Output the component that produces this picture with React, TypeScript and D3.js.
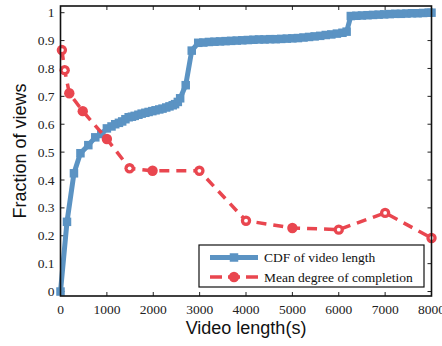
import React from "react";
import * as d3 from "d3";

// CDF of video length (seconds -> cumulative fraction)
const cdfLength = [0, 140, 290, 430, 600, 750, 880, 1000, 1100, 1180, 1260, 1330, 1400, 1470, 1540, 1600, 1680, 1750, 1830, 1900, 1980, 2050, 2130, 2200, 2280, 2350, 2420, 2470, 2530, 2580, 2700, 2830, 2970, 3080, 3200, 3320, 3440, 3560, 3680, 3800, 3920, 4040, 4160, 4280, 4400, 4520, 4640, 4760, 4880, 5000, 5120, 5240, 5360, 5480, 5600, 5720, 5840, 5960, 6080, 6170, 6260, 6380, 6500, 6620, 6740, 6860, 6980, 7100, 7220, 7340, 7460, 7580, 7700, 7820, 7940, 8000];
const cdfFraction = [0, 0.25, 0.424, 0.496, 0.525, 0.553, 0.565, 0.585, 0.592, 0.6, 0.605, 0.61, 0.618, 0.625, 0.627, 0.63, 0.634, 0.638, 0.641, 0.644, 0.647, 0.65, 0.653, 0.656, 0.66, 0.664, 0.668, 0.672, 0.68, 0.693, 0.74, 0.864, 0.892, 0.893, 0.895, 0.896, 0.897, 0.898, 0.899, 0.9, 0.901, 0.902, 0.903, 0.904, 0.904, 0.905, 0.905, 0.906, 0.907, 0.908, 0.909, 0.911, 0.913, 0.915, 0.917, 0.92, 0.922, 0.925, 0.928, 0.932, 0.988, 0.989, 0.99, 0.991, 0.992, 0.993, 0.994, 0.995, 0.996, 0.996, 0.997, 0.998, 0.998, 0.999, 1.0, 1.0];

// Mean degree of completion per video length
const completionLength = [30, 90, 190, 480, 1000, 1490, 1985, 2995, 4000, 5000, 6000, 7000, 8000];
const completionMean = [0.866, 0.794, 0.711, 0.647, 0.547, 0.442, 0.433, 0.433, 0.254, 0.228, 0.222, 0.282, 0.192];

const xTicks = [0, 1000, 2000, 3000, 4000, 5000, 6000, 7000, 8000];
const yTicks = [0, 0.1, 0.2, 0.3, 0.4, 0.5, 0.6, 0.7, 0.8, 0.9, 1];

const legendLabels = ["CDF of video length", "Mean degree of completion"];

const BLUE = "#5b93c3";
const RED = "#e9464f";
const SERIF = "'Liberation Serif', 'Times New Roman', serif";
const SANS = "'Liberation Sans', Arial, sans-serif";

// markers drawn as rings (white centre)
const ringMarkers = new Set([0, 1, 5, 7, 8, 10, 11, 12]);

export default function App() {
  const W = 442;
  const H = 346;
  const left = 60.5;
  const right = 431.5;
  const top = 6;
  const bottom = 296;

  const x = d3.scaleLinear().domain([0, 8000]).range([left, right]);
  const y = d3.scaleLinear().domain([-0.016, 1.024]).range([bottom, top]);

  const cdfPts: [number, number][] = cdfLength.map((v, i) => [v, cdfFraction[i]]);
  const compPts: [number, number][] = completionLength.map((v, i) => [v, completionMean[i]]);

  const line = d3
    .line<[number, number]>()
    .x((d) => x(d[0]))
    .y((d) => y(d[1]));

  const sq = 8.5;

  const legX = 199;
  const legY = 245;
  const legW = 225;
  const legH = 42;

  return (
    <svg
      width={W}
      height={H}
      style={{ position: "absolute", left: 0, top: 0, background: "#fff" }}
    >
      <rect x={0} y={0} width={W} height={H} fill="#fff" />

      {/* ticks (inward on all four sides) */}
      {xTicks.map((t) => (
        <g key={"xt" + t}>
          <line x1={x(t)} x2={x(t)} y1={bottom} y2={bottom - 4} stroke="#222" strokeWidth={1} />
          <line x1={x(t)} x2={x(t)} y1={top} y2={top + 4} stroke="#222" strokeWidth={1} />
          <text
            x={x(t)}
            y={bottom + 18}
            textAnchor="middle"
            fontFamily={SERIF}
            fontSize={13.5}
            fill="#222"
          >
            {t}
          </text>
        </g>
      ))}
      {yTicks.map((t) => (
        <g key={"yt" + t}>
          <line x1={left} x2={left + 4} y1={y(t)} y2={y(t)} stroke="#222" strokeWidth={1} />
          <line x1={right} x2={right - 4} y1={y(t)} y2={y(t)} stroke="#222" strokeWidth={1} />
          <text
            x={left - 6}
            y={y(t) + 4.5}
            textAnchor="end"
            fontFamily={SERIF}
            fontSize={13.5}
            fill="#222"
          >
            {t}
          </text>
        </g>
      ))}

      {/* CDF series */}
      <path d={line(cdfPts) || ""} fill="none" stroke={BLUE} strokeWidth={5} strokeLinejoin="round" />
      {cdfPts.map((d, i) => (
        <rect
          key={"c" + i}
          x={x(d[0]) - sq / 2}
          y={y(d[1]) - sq / 2}
          width={sq}
          height={sq}
          fill={BLUE}
        />
      ))}

      {/* completion series */}
      <path
        d={line(compPts) || ""}
        fill="none"
        stroke={RED}
        strokeWidth={3.5}
        strokeDasharray="10,7"
      />
      {compPts.map((d, i) => (
        <g key={"m" + i}>
          <circle cx={x(d[0])} cy={y(d[1])} r={5.2} fill={RED} />
          {ringMarkers.has(i) && <circle cx={x(d[0])} cy={y(d[1])} r={1.9} fill="#fff" />}
        </g>
      ))}

      {/* frame */}
      <rect
        x={left}
        y={top}
        width={right - left}
        height={bottom - top}
        fill="none"
        stroke="#111"
        strokeWidth={1.6}
      />

      {/* legend */}
      <rect x={legX} y={legY} width={legW} height={legH} fill="#fff" stroke="#111" strokeWidth={1.2} />
      <line x1={210} x2={258} y1={257.5} y2={257.5} stroke={BLUE} strokeWidth={5} />
      <rect x={234 - sq / 2} y={257.5 - sq / 2} width={sq} height={sq} fill={BLUE} />
      <text x={264} y={262} fontFamily={SERIF} fontSize={13.5} fill="#111">
        {legendLabels[0]}
      </text>
      <line x1={210} x2={258} y1={277} y2={277} stroke={RED} strokeWidth={3.5} strokeDasharray="12,6" />
      <circle cx={234} cy={277} r={5.2} fill={RED} />
      <text x={264} y={281.5} fontFamily={SERIF} fontSize={13.5} fill="#111">
        {legendLabels[1]}
      </text>

      {/* axis titles */}
      <text
        x={(left + right) / 2}
        y={334}
        textAnchor="middle"
        fontFamily={SANS}
        fontSize={18}
        fill="#111"
      >
        Video length(s)
      </text>
      <text
        transform={`translate(26,${(top + bottom) / 2}) rotate(-90)`}
        textAnchor="middle"
        fontFamily={SANS}
        fontSize={18}
        fill="#111"
      >
        Fraction of views
      </text>
    </svg>
  );
}
